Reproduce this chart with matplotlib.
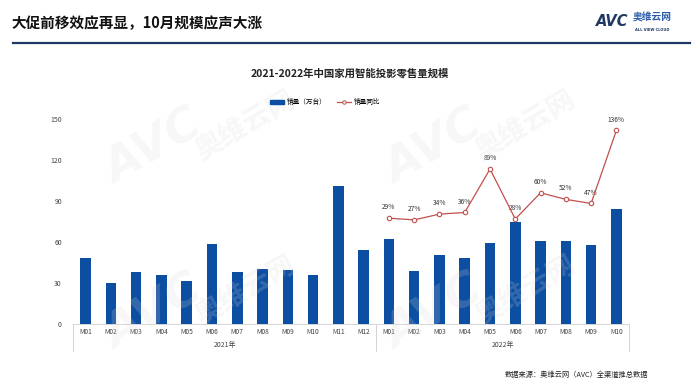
import numpy as np
import matplotlib.pyplot as plt
from matplotlib.lines import Line2D
from matplotlib.patches import Patch
import matplotlib.transforms as mtransforms

plt.rcParams['font.family'] = ['Noto Sans CJK SC', 'DejaVu Sans']

# data
months_2021 = ['M01', 'M02', 'M03', 'M04', 'M05', 'M06', 'M07', 'M08', 'M09', 'M10', 'M11', 'M12']
months_2022 = ['M01', 'M02', 'M03', 'M04', 'M05', 'M06', 'M07', 'M08', 'M09', 'M10']
sales_2021 = [48.5, 30.0, 37.7, 35.5, 31.4, 58.8, 38.2, 40.2, 39.2, 35.5, 101.2, 54.2]
sales_2022 = [62.2, 38.5, 50.5, 48.3, 59.3, 74.8, 60.8, 60.8, 57.8, 83.8]
yoy_2022 = [29, 27, 34, 36, 89, 28, 60, 52, 47, 136]
group_labels = ['2021年', '2022年']

BAR_BLUE = '#0B4EA2'
LINE_RED = '#C0504D'
NAVY = '#1F3864'

labels = months_2021 + months_2022
sales = sales_2021 + sales_2022
x = np.arange(len(labels))
x_yoy = x[len(months_2021):]

fig = plt.figure(figsize=(7, 3.92), dpi=100)

# header
fig.text(12 / 700, 1 - 23 / 392, '大促前移效应再显，10月规模应声大涨', fontsize=10.5,
         fontweight='bold', va='center', ha='left', color='#111111')
fig.add_artist(Line2D([13 / 700, 690 / 700], [1 - 43 / 392] * 2, color=NAVY, lw=1.6))
fig.text(596 / 700, 1 - 21 / 392, 'AVC', fontsize=10.5, fontweight='bold', fontstyle='italic',
         color=NAVY, family='DejaVu Sans', va='center', ha='left')
fig.text(633 / 700, 1 - 18 / 392, '奥维云网', fontsize=7, fontweight='bold',
         color='#2A5CAA', va='center', ha='left')
fig.text(635 / 700, 1 - 30 / 392, 'ALL VIEW CLOUD', fontsize=2.6, fontweight='bold',
         color=NAVY, family='DejaVu Sans', va='center', ha='left')

# faint watermarks
for wx, wy in [(0.22, 0.62), (0.62, 0.62), (0.22, 0.2), (0.62, 0.2)]:
    fig.text(wx, wy, 'AVC', fontsize=34, fontweight='bold', fontstyle='italic',
             color='#d9d9d9', alpha=0.2, rotation=30, ha='center', va='center',
             family='DejaVu Sans', zorder=0)
    fig.text(wx + 0.13, wy + 0.06, '奥维云网', fontsize=20, fontweight='bold',
             color='#d9d9d9', alpha=0.2, rotation=30, ha='center', va='center', zorder=0)

# chart title
fig.text(350 / 700, 1 - 73 / 392, '2021-2022年中国家用智能投影零售量规模', fontsize=7.5,
         fontweight='bold', ha='center', va='center', color='#222222')

ax = fig.add_axes([73 / 700, 1 - 324 / 392, 556 / 700, 205 / 392])
ax.bar(x, sales, width=0.42, color=BAR_BLUE, zorder=3)
ax.set_xlim(-0.5, len(labels) - 0.5)
ax.set_ylim(0, 150)
ax.set_yticks([0, 30, 60, 90, 120, 150])
ax.tick_params(axis='y', length=0, labelsize=5, labelcolor='#444444', pad=8)
ax.set_xticks(x)
ax.set_xticklabels(labels)
ax.tick_params(axis='x', length=0, labelsize=4.8, labelcolor='#444444', pad=3)
for s in ['top', 'right', 'left']:
    ax.spines[s].set_visible(False)
ax.spines['bottom'].set_color('#d0d0d0')
ax.spines['bottom'].set_linewidth(0.6)
ax.patch.set_alpha(0)

# two-level axis: group separators and year labels
trans = mtransforms.blended_transform_factory(ax.transData, ax.transAxes)
for sx in [-0.5, len(months_2021) - 0.5, len(labels) - 0.5]:
    ax.plot([sx, sx], [0, -0.13], color='#cccccc', lw=0.6, transform=trans, clip_on=False)
ax.text((len(months_2021) - 1) / 2, -0.1, group_labels[0], transform=trans,
        ha='center', va='center', fontsize=5, color='#444444')
ax.text(len(months_2021) + (len(months_2022) - 1) / 2, -0.1, group_labels[1], transform=trans,
        ha='center', va='center', fontsize=5, color='#444444')

# yoy on hidden secondary axis
ax2 = ax.twinx()
ax2.set_ylim(-100, 150)
ax2.plot(x_yoy, yoy_2022, color=LINE_RED, lw=0.9, marker='o', ms=3.2,
         mfc='white', mec=LINE_RED, mew=0.8, zorder=4)
for xi, v in zip(x_yoy, yoy_2022):
    ax2.annotate(f'{v}%', (xi, v), xytext=(0, 5), textcoords='offset points',
                 ha='center', va='bottom', fontsize=4.8, color='#333333')
ax2.axis('off')

# legend
handles = [Patch(color=BAR_BLUE), Line2D([], [], color=LINE_RED, lw=0.9, marker='o', ms=2.5,
                                        mfc='white', mec=LINE_RED, mew=0.7)]
fig.legend(handles, ['销量（万台）', '销量同比'], loc='center', bbox_to_anchor=(325 / 700, 1 - 102 / 392),
           ncol=2, frameon=False, fontsize=4.8, handlelength=2.2, handleheight=0.5,
           columnspacing=1.5, handletextpad=0.4)

# source note
fig.text(505 / 700, 1 - 375 / 392, '数据来源：奥维云网（AVC）全渠道推总数据', fontsize=5.2,
         ha='left', va='center', color='#222222')

fig.savefig('out.png', dpi=100)
